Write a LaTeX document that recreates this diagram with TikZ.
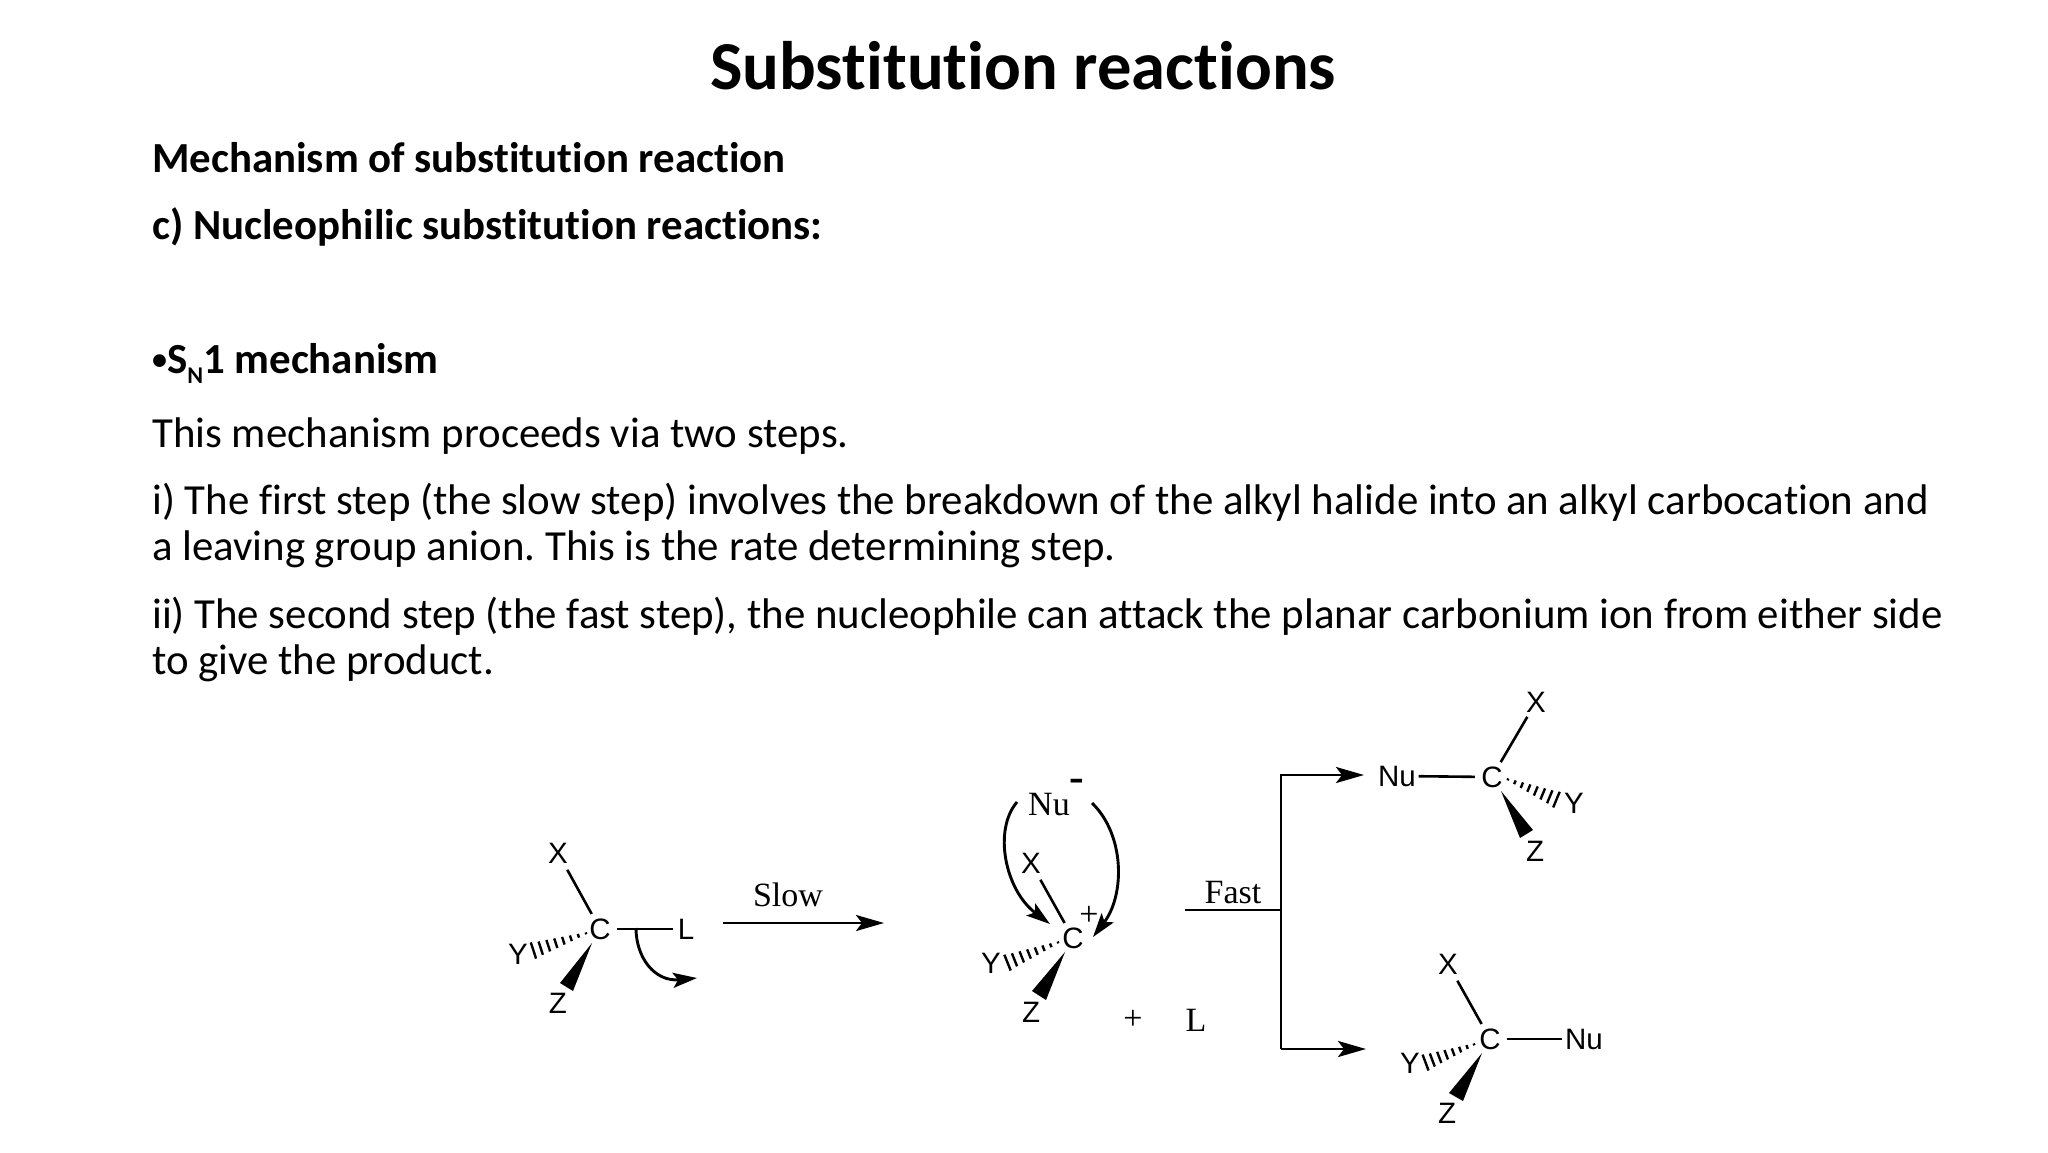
\documentclass[tikz,border=0pt]{standalone}
\usepackage{fontspec}
\setmainfont[Ligatures=CommonOff]{Carlito}
\newfontfamily\chemsans{Liberation Sans}
\newfontfamily\chemserif{Liberation Serif}
\usetikzlibrary{arrows.meta,calc}
\frenchspacing
\newcommand{\bodysize}{\fontsize{42.87}{50}\selectfont}
\newcommand{\hashbond}[2]{%
  \foreach \t/\h in {0.02/1,0.165/2,0.31/3,0.455/4,0.60/5,0.745/6,0.89/7,1.03/8.5}{%
    \draw[hashtick] ($(#1)!\t!(#2)!\h pt!90:(#2)$) -- ($(#1)!\t!(#2)!\h pt!-90:(#2)$);
  }}
\tikzset{
  x=1pt,y=-1pt,
  slidetext/.style={anchor=base west,inner sep=0pt,font=\bodysize},
  slidebold/.style={slidetext,font=\bodysize\bfseries},
  titletext/.style={anchor=base,inner sep=0pt,font=\fontsize{68.6}{72}\selectfont\bfseries},
  atom/.style={circle,inner sep=0pt,minimum size=#1,font=\fontsize{29.5}{30}\selectfont\chemsans},
  atom/.default=34,
  serif/.style={inner sep=0pt,font=\fontsize{34}{36}\selectfont\chemserif},
  bond/.style={line width=2.6pt},
  hashtick/.style={line width=2.4pt},
  wedge/.style={fill=black,draw=none},
  reactline/.style={line width=2.9pt},
  bigarrow/.style={line width=2.9pt,-{Stealth[length=28pt,width=16pt,inset=6pt]}},
  curvearrow/.style={line width=2.9pt,-{Stealth[length=24pt,width=15pt,inset=5pt]}},
}
\begin{document}
\begin{tikzpicture}
\useasboundingbox[fill=white] (0,0) rectangle (2048,1152);
% text
\node[titletext] (title) at (1023,89) {Substitution reactions};
\node[slidebold] (h1) at (152,172) {Mechanism of substitution reaction};
\node[slidebold] (h2) at (152,239) {c) Nucleophilic substitution reactions:};
\node[slidebold] (h3) at (152,373) {{\fontsize{30}{30}\selectfont\raisebox{0.12em}{•}}S\raisebox{-0.24em}{\fontsize{24}{30}\selectfont N}1 mechanism};
\node[slidetext] (p1) at (152,447) {This mechanism proceeds via two steps.};
\node[slidetext] (p2) at (152,514) {i) The first step (the slow step) involves the breakdown of the alkyl halide into an alkyl carbocation and};
\node[slidetext] (p3) at (152,560) {a leaving group anion. This is the rate determining step.};
\node[slidetext] (p4) at (152,628) {ii) The second step (the fast step), the nucleophile can attack the planar carbonium ion from either side};
\node[slidetext] (p5) at (152,674) {to give the product.};
% substrate
\node[atom] (c1) at (600,929) {C};
\node[atom=38] (x1) at (558,853) {X};
\node[atom=24] (l1) at (686,929) {L};
\node[atom] (y1) at (518,954) {Y};
\node[atom] (z1) at (558,1003) {Z};
\draw[bond] (c1) -- (x1);
\draw[bond] (c1) -- (l1);
\coordinate (h1a) at (587,933); \coordinate (h1b) at (535,950);
\hashbond{h1a}{h1b}
\coordinate (w1t) at (592,943); \coordinate (w1a) at (560,983); \coordinate (w1b) at (573,991);
\fill[wedge] (w1t) -- (w1a) -- (w1b) -- cycle;
\coordinate (ca1) at (636,928); \coordinate (ca2) at (697,978);
\draw[curvearrow] (ca1) .. controls (636,958) and (655,982) .. (ca2);
% slow arrow
\coordinate (sa) at (723,923); \coordinate (sb) at (884,923);
\draw[bigarrow] (sa) -- (sb);
\node[serif] (slow) at (788,895) {Slow};
% carbocation
\node[atom] (c2) at (1073,938) {C};
\node[atom=38] (x2) at (1031,863) {X};
\node[atom] (y2) at (991,963) {Y};
\node[atom] (z2) at (1031,1012) {Z};
\node[serif] (plusc) at (1089,916) {+};
\node[serif] (nu2) at (1049,805) {Nu};
\node[serif,font=\fontsize{44}{44}\selectfont\chemserif\bfseries] (minus) at (1077,785) {-};
\draw[bond] (c2) -- (x2);
\coordinate (h2a) at (1059,942); \coordinate (h2b) at (1009,962);
\hashbond{h2a}{h2b}
\coordinate (w2t) at (1065,952); \coordinate (w2a) at (1032,991); \coordinate (w2b) at (1046,1000);
\fill[wedge] (w2t) -- (w2a) -- (w2b) -- cycle;
\coordinate (la) at (1017,802); \coordinate (lb) at (1050,924);
\coordinate (ra) at (1092,803); \coordinate (rb) at (1093,937);
\draw[curvearrow] (la) .. controls (993,830) and (1005,890) .. (lb);
\draw[curvearrow] (ra) .. controls (1125,835) and (1125,895) .. (rb);
\node[serif] (plus) at (1133,1020) {+};
\node[serif] (l2) at (1196,1020) {L};
% fast branch
\node[serif] (fast) at (1233,893) {Fast};
\coordinate (fa) at (1185,910); \coordinate (fb) at (1281,910);
\coordinate (ft) at (1281,775); \coordinate (fbot) at (1281,1049);
\coordinate (ftip) at (1364,775); \coordinate (fbip) at (1366,1049);
\draw[reactline] (fa) -- (fb);
\draw[bigarrow] (fbot) -- (ft) -- (ftip);
\draw[bigarrow] (fbot) -- (fbip);
% top product
\node[atom] (c3) at (1492,777) {C};
\node[atom=42] (nu3) at (1397,776) {Nu};
\node[atom=34] (x3) at (1536,702) {X};
\node[atom] (y3) at (1574,803) {Y};
\node[atom] (z3) at (1535,851) {Z};
\draw[bond] (c3) -- (nu3);
\draw[bond] (c3) -- (x3);
\coordinate (h3a) at (1507,779); \coordinate (h3b) at (1555,799);
\hashbond{h3a}{h3b}
\coordinate (w3t) at (1501,791); \coordinate (w3a) at (1533,830); \coordinate (w3b) at (1520,838);
\fill[wedge] (w3t) -- (w3a) -- (w3b) -- cycle;
% bottom product
\node[atom] (c4) at (1490,1039) {C};
\node[atom=42] (nu4) at (1584,1039) {Nu};
\node[atom=38] (x4) at (1448,964) {X};
\node[atom] (y4) at (1410,1063) {Y};
\node[atom] (z4) at (1447,1113) {Z};
\draw[bond] (c4) -- (nu4);
\draw[bond] (c4) -- (x4);
\coordinate (h4a) at (1475,1044); \coordinate (h4b) at (1427,1062);
\hashbond{h4a}{h4b}
\coordinate (w4t) at (1482,1053); \coordinate (w4a) at (1449,1093); \coordinate (w4b) at (1463,1101);
\fill[wedge] (w4t) -- (w4a) -- (w4b) -- cycle;
\end{tikzpicture}
\end{document}
